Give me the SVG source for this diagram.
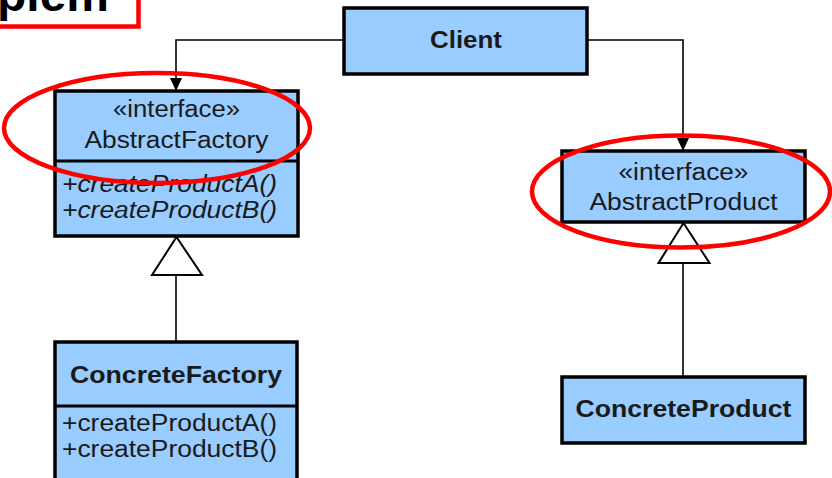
<svg xmlns="http://www.w3.org/2000/svg" width="832" height="478" viewBox="0 0 832 478">
<defs>
<style>
.box{fill:#99CCFF;stroke:#000;stroke-width:3.5}
.div{stroke:#000;stroke-width:3}
.t{font-family:"Liberation Sans",Arial,sans-serif;font-size:23px;fill:#1a1a1a}
.b{font-weight:bold}
.c{text-anchor:middle}
.i{font-style:italic}
.con{fill:none;stroke:#000;stroke-width:1.6}
.gen{fill:#fff;stroke:#000;stroke-width:2}
.red{fill:none;stroke:#ff0000;stroke-width:4.5}
</style>
<marker id="arr" markerWidth="14" markerHeight="12" refX="13" refY="6" orient="auto" markerUnits="userSpaceOnUse">
<path d="M0,0 L13,6 L0,12 Z" fill="#000"/>
</marker>
</defs>
<rect x="0" y="0" width="832" height="478" fill="#fff"/>
<g id="title">
<text x="-3" y="11" font-family="'Liberation Sans',Arial,sans-serif" font-weight="bold" font-size="48" fill="#000">plem</text>
<rect x="-10" y="-10" width="148.5" height="36.5" class="red"/>
</g>
<g id="connectors">
<polyline class="con" points="343,40 176,40 176,91" marker-end="url(#arr)"/>
<polyline class="con" points="587,40 683,40 683,151" marker-end="url(#arr)"/>
<line class="con" x1="176" y1="275" x2="176" y2="342"/>
<polygon class="gen" points="176.5,237 152,275 202,275"/>
<line class="con" x1="683" y1="263" x2="683" y2="377"/>
<polygon class="gen" points="683.5,223 658.5,263 709.5,263"/>
</g>
<g id="client">
<rect class="box" x="344" y="8" width="243" height="66"/>
<text class="t b c" x="466" y="48" textLength="72" lengthAdjust="spacingAndGlyphs">Client</text>
</g>
<g id="abstractFactory">
<rect class="box" x="55" y="91" width="243" height="145"/>
<line class="div" x1="55" y1="161" x2="298" y2="161"/>
<text class="t c" x="176.5" y="117" textLength="127" lengthAdjust="spacingAndGlyphs">«interface»</text>
<text class="t c" x="176.5" y="148" textLength="184" lengthAdjust="spacingAndGlyphs">AbstractFactory</text>
<text class="t i" x="62" y="192" textLength="215" lengthAdjust="spacingAndGlyphs">+createProductA()</text>
<text class="t i" x="62" y="218" textLength="215" lengthAdjust="spacingAndGlyphs">+createProductB()</text>
</g>
<g id="concreteFactory">
<rect class="box" x="55" y="342" width="242" height="150"/>
<line class="div" x1="55" y1="406" x2="297" y2="406"/>
<text class="t b c" x="176" y="383" textLength="212" lengthAdjust="spacingAndGlyphs">ConcreteFactory</text>
<text class="t" x="62" y="431" textLength="215" lengthAdjust="spacingAndGlyphs">+createProductA()</text>
<text class="t" x="62" y="457" textLength="215" lengthAdjust="spacingAndGlyphs">+createProductB()</text>
</g>
<g id="abstractProduct">
<rect class="box" x="562" y="151" width="243" height="71"/>
<text class="t c" x="683.5" y="180" textLength="130" lengthAdjust="spacingAndGlyphs">«interface»</text>
<text class="t c" x="683.5" y="210" textLength="188" lengthAdjust="spacingAndGlyphs">AbstractProduct</text>
</g>
<g id="concreteProduct">
<rect class="box" x="562" y="377" width="243" height="66"/>
<text class="t b c" x="683.5" y="417" textLength="216" lengthAdjust="spacingAndGlyphs">ConcreteProduct</text>
</g>
<g id="highlights">
<ellipse class="red" cx="157" cy="128" rx="153" ry="55"/>
<ellipse class="red" cx="681" cy="191.5" rx="149" ry="56"/>
</g>
</svg>
